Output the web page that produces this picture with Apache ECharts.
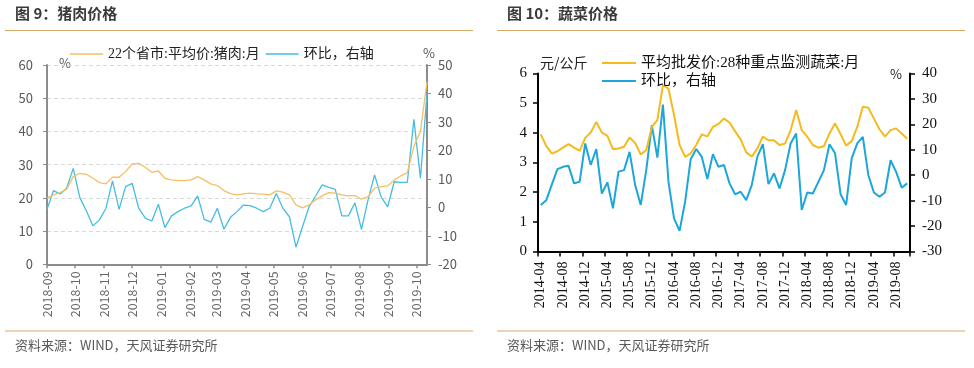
<!DOCTYPE html>
<html><head><meta charset="utf-8">
<script src="https://cdn.jsdelivr.net/npm/echarts@6/dist/echarts.min.js"></script>
<style>html,body{margin:0;padding:0;background:#fff}#wrap{position:relative;width:974px;height:368px}
#c1{position:absolute;left:0;top:0;width:487px;height:368px}#c2{position:absolute;left:487px;top:0;width:487px;height:368px}</style>
</head><body><div id="wrap"><div id="c1"></div><div id="c2"></div></div>
<script>
// ---- Figure 9: pork (weekly) ----
const porkDates = ['2018-09-01','2018-09-08','2018-09-15','2018-09-22','2018-09-29','2018-10-06','2018-10-13','2018-10-20','2018-10-27','2018-11-03','2018-11-10','2018-11-17','2018-11-24','2018-12-01','2018-12-08','2018-12-15','2018-12-22','2018-12-29','2019-01-05','2019-01-12','2019-01-19','2019-01-26','2019-02-02','2019-02-09','2019-02-16','2019-02-23','2019-03-02','2019-03-09','2019-03-16','2019-03-23','2019-03-30','2019-04-06','2019-04-13','2019-04-20','2019-04-27','2019-05-04','2019-05-11','2019-05-18','2019-05-25','2019-06-01','2019-06-08','2019-06-15','2019-06-22','2019-06-29','2019-07-06','2019-07-13','2019-07-20','2019-07-27','2019-08-03','2019-08-10','2019-08-17','2019-08-24','2019-08-31','2019-09-07','2019-09-14','2019-09-21','2019-09-28','2019-10-05','2019-10-12'];
const porkPrice = [19.9,20.9,21.6,22.6,26.4,27.4,27.1,25.9,24.6,24.2,26.2,26.2,27.9,30.2,30.4,29.2,27.7,28.1,25.9,25.4,25.2,25.2,25.4,26.4,25.4,24.2,23.7,22.2,21.3,20.9,21.2,21.4,21.2,21.1,20.9,22.1,21.7,20.9,17.9,17.0,17.9,19.4,20.6,21.6,21.4,20.9,20.6,20.7,19.6,20.3,22.9,23.4,23.6,25.4,26.6,27.6,35.5,40.0,55.0];
const porkMoM = [-0.7,5.9,4.7,6.7,13.7,3.5,-1.2,-6.5,-4.4,-0.3,9.3,-0.7,7.3,8.4,-0.3,-3.8,-4.8,1.1,-7.1,-3.0,-1.5,-0.3,0.5,4.0,-4.2,-5.2,-0.3,-7.7,-3.5,-1.5,0.8,0.6,-0.3,-1.5,-0.3,4.9,-0.3,-3.3,-14.0,-6.8,0.2,4.0,7.9,7.0,6.3,-3.0,-3.0,1.6,-7.7,2.6,11.4,3.7,0.2,9.0,8.8,8.8,30.9,10.2,40.0];
const porkTicks = ['2018-09-01','2018-10-01','2018-11-01','2018-12-01','2019-01-01','2019-02-01','2019-03-01','2019-04-01','2019-05-01','2019-06-01','2019-07-01','2019-08-01','2019-09-01','2019-10-01'];
const porkNames = ['22个省市:平均价:猪肉:月','环比，右轴'];

// ---- Figure 10: vegetables (monthly) ----
const vegMonths = ['2014-04','2014-05','2014-06','2014-07','2014-08','2014-09','2014-10','2014-11','2014-12',
'2015-01','2015-02','2015-03','2015-04','2015-05','2015-06','2015-07','2015-08','2015-09','2015-10','2015-11','2015-12',
'2016-01','2016-02','2016-03','2016-04','2016-05','2016-06','2016-07','2016-08','2016-09','2016-10','2016-11','2016-12',
'2017-01','2017-02','2017-03','2017-04','2017-05','2017-06','2017-07','2017-08','2017-09','2017-10','2017-11','2017-12',
'2018-01','2018-02','2018-03','2018-04','2018-05','2018-06','2018-07','2018-08','2018-09','2018-10','2018-11','2018-12',
'2019-01','2019-02','2019-03','2019-04','2019-05','2019-06','2019-07','2019-08','2019-09','2019-10'];
const vegPrice = [3.95,3.55,3.3,3.38,3.5,3.62,3.5,3.39,3.83,4.01,4.37,4.01,3.9,3.45,3.47,3.53,3.84,3.66,3.27,3.42,4.2,4.43,5.61,5.49,4.6,3.59,3.19,3.31,3.59,3.95,3.88,4.2,4.3,4.48,4.35,4.05,3.78,3.34,3.2,3.47,3.87,3.75,3.75,3.59,3.64,4.09,4.77,4.09,3.87,3.59,3.5,3.55,3.98,4.32,3.95,3.57,3.72,4.2,4.88,4.85,4.48,4.12,3.87,4.09,4.15,3.98,3.8];
const vegMoM = [-11.7,-9.8,-3.6,2.4,3.3,3.7,-3.2,-2.6,12.5,4.0,10.3,-7.2,-2.8,-13.0,1.4,2.0,9.2,-3.9,-11.7,2.0,19.7,6.9,27.8,-2.6,-17.0,-21.9,-10.4,6.3,10.3,7.2,-1.5,8.3,3.3,4.0,-3.2,-7.5,-6.5,-9.8,-3.9,7.2,12.2,-3.5,0.7,-5.2,2.0,12.5,16.4,-13.7,-6.8,-7.2,-2.6,2.0,12.2,8.6,-7.5,-11.7,6.6,12.5,15.1,0.0,-6.8,-8.5,-6.8,5.9,1.3,-4.9,-3.2];
const vegNames = ['平均批发价:28种重点监测蔬菜:月','环比，右轴'];

const SANS = "'Noto Sans CJK SC', sans-serif";
const SERIF_MIX = "'Liberation Serif', 'Noto Sans CJK SC', serif";
const SEP = '#D8A86E';

function frame(title, x0) {
  return [
    {type:'text', left:x0, top:6, style:{text:title, font:"bold 15px "+SANS, fill:'#3a3a3a'}},
    {type:'line', shape:{x1:x0-10, y1:30.5, x2:x0+458, y2:30.5}, style:{stroke:SEP, lineWidth:1}},
    {type:'line', shape:{x1:x0-10, y1:331, x2:x0+458, y2:331}, style:{stroke:SEP, lineWidth:1}},
    {type:'text', left:x0, top:339, style:{text:'资料来源：WIND，天风证券研究所', font:"13px "+SANS, fill:'#595959'}}
  ];
}

const toTs = s => +new Date(s + 'T00:00:00');
const fmtMonth = v => { const d = new Date(v); return d.getFullYear() + '-' + String(d.getMonth()+1).padStart(2,'0'); };

try {
const c1 = echarts.init(document.getElementById('c1'));
c1.setOption({
  animation:false,
  graphic: frame('图 9：猪肉价格', 15).concat([
    {type:'text', left:59, top:57, style:{text:'%', font:"13px "+SANS, fill:'#595959'}},
    {type:'text', left:423, top:47, style:{text:'%', font:"13px "+SANS, fill:'#595959'}}
  ]),
  legend:{left:65, top:41, icon:'rect', itemWidth:33, itemHeight:1.5, itemGap:6, data:porkNames,
    textStyle:{fontFamily:SERIF_MIX, fontSize:14, color:'#222', lineHeight:16}},
  grid:{left:47, right:60, top:65, bottom:103.7},
  xAxis:{type:'value', min:toTs(porkDates[0]), max:toTs(porkDates[porkDates.length-1]),
    axisLine:{lineStyle:{color:'#8c8c8c', width:2}},
    axisTick:{show:true, length:4, lineStyle:{color:'#8c8c8c', width:1.5}, customValues:porkTicks.map(toTs)},
    axisLabel:{rotate:90, margin:7, fontFamily:SANS, fontSize:12.5, color:'#666',
      customValues:porkTicks.map(toTs), formatter:fmtMonth},
    splitLine:{show:false}},
  yAxis:[
    {type:'value', min:0, max:60, interval:10,
      axisLine:{show:true, lineStyle:{color:'#8c8c8c', width:2}},
      axisTick:{show:true, length:4, lineStyle:{color:'#8c8c8c'}},
      axisLabel:{margin:14, fontFamily:SANS, fontSize:13, color:'#595959'},
      splitLine:{show:true, lineStyle:{color:'#d9d9d9', type:[4,3], width:1}}},
    {type:'value', min:-20, max:50, interval:10, position:'right',
      axisLine:{show:true, lineStyle:{color:'#8c8c8c', width:2}},
      axisTick:{show:true, length:4, lineStyle:{color:'#8c8c8c'}},
      axisLabel:{margin:11, fontFamily:SANS, fontSize:13, color:'#595959'},
      splitLine:{show:false}}
  ],
  series:[
    {name:porkNames[0], type:'line', yAxisIndex:0, symbol:'none', z:3,
      data:porkDates.map((d,i)=>[toTs(d), porkPrice[i]]),
      lineStyle:{color:'#F5BF62', width:1.3}, itemStyle:{color:'#F5BF62'}},
    {name:porkNames[1], type:'line', yAxisIndex:1, symbol:'none', z:2,
      data:porkDates.map((d,i)=>[toTs(d), porkMoM[i]]),
      lineStyle:{color:'#45BDE0', width:1.3}, itemStyle:{color:'#45BDE0'}}
  ]
});
} catch(e) { console.error(e); }

const c2 = echarts.init(document.getElementById('c2'));
c2.setOption({
  animation:false,
  graphic: frame('图 10：蔬菜价格', 20).concat([
    {type:'text', left:53, top:56, style:{text:'元/公斤', font:"14px "+SANS, fill:'#222'}},
    {type:'text', left:403, top:68, style:{text:'%', font:"13px "+SANS, fill:'#222'}}
  ]),
  legend:{left:110, top:50, orient:'vertical', icon:'rect', itemWidth:34, itemHeight:2, itemGap:2, data:vegNames,
    textStyle:{fontFamily:SERIF_MIX, fontSize:15, color:'#111', lineHeight:16}},
  grid:{left:51, right:64, top:73.5, bottom:116.5},
  xAxis:{type:'category', data:vegMonths, boundaryGap:true,
    axisLine:{lineStyle:{color:'#000', width:2}},
    axisTick:{show:true, length:5, interval:3, lineStyle:{color:'#000', width:1.5}},
    axisLabel:{rotate:90, interval:3, margin:10, fontFamily:"'Liberation Serif', serif", fontSize:14, color:'#111', padding:[0,0,5,0]}},
  yAxis:[
    {type:'value', min:0, max:6, interval:1,
      axisLine:{show:true, lineStyle:{color:'#000', width:2}},
      axisTick:{show:true, length:5, lineStyle:{color:'#000', width:1.5}},
      axisLabel:{margin:11, fontFamily:"'Liberation Serif', serif", fontSize:15, color:'#111'},
      splitLine:{show:false}},
    {type:'value', min:-30, max:40, interval:10, position:'right',
      axisLine:{show:true, lineStyle:{color:'#000', width:2}},
      axisTick:{show:true, length:5, lineStyle:{color:'#000', width:1.5}},
      axisLabel:{margin:12, fontFamily:"'Liberation Serif', serif", fontSize:15, color:'#111'},
      splitLine:{show:false}}
  ],
  series:[
    {name:vegNames[0], type:'line', yAxisIndex:0, symbol:'none', z:3, data:vegPrice,
      lineStyle:{color:'#F5BA1C', width:2}, itemStyle:{color:'#F5BA1C'}},
    {name:vegNames[1], type:'line', yAxisIndex:1, symbol:'none', z:2, data:vegMoM,
      lineStyle:{color:'#1CA6DA', width:2}, itemStyle:{color:'#1CA6DA'}}
  ]
});
</script></body></html>
